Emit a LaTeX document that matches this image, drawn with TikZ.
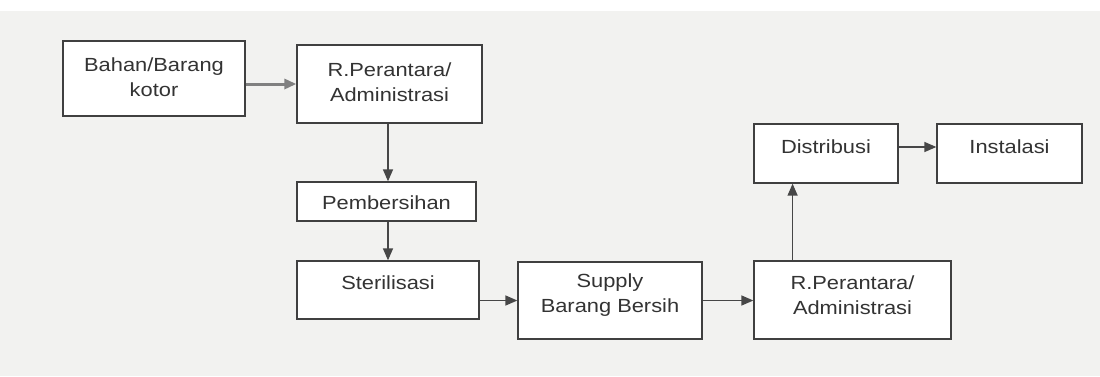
\documentclass[tikz,border=0pt]{standalone}
\usepackage{fontspec}
\setmainfont{Liberation Sans}[FakeStretch=1.15]
\usetikzlibrary{arrows.meta,calc}
\begin{document}
\begin{tikzpicture}[x=1pt,y=-1pt,
  box/.style={draw=black!75,line width=1.3pt,fill=white,inner sep=0pt},
  lbl/.style={text=black!80,align=center,inner sep=0pt,
    font=\fontsize{19}{25}\selectfont},
  flow/.style={draw=black!72,line width=1.4pt,
    -{Triangle[length=12pt,width=10pt]}},
  thickflow/.style={draw=black!50,line width=3pt,
    -{Triangle[length=12pt,width=10pt]}}]
  % paper
  \fill[fill={rgb,255:red,242;green,242;blue,240}] (0,0) rectangle (1100,376);
  \fill[white] (0,0) rectangle (1100,11);
  \useasboundingbox (0,0) rectangle (1100,376);

  % boxes
  \node[box,minimum width=182pt,minimum height=75pt] (b1) at (154,78.5) {};
  \node[box,minimum width=185pt,minimum height=78pt] (b2) at (389.5,84) {};
  \node[box,minimum width=179pt,minimum height=39pt] (b3) at (386.5,201.5) {};
  \node[box,minimum width=182pt,minimum height=58pt] (b4) at (388,290) {};
  \node[box,minimum width=184pt,minimum height=77pt] (b5) at (610,300.5) {};
  \node[box,minimum width=197pt,minimum height=78pt] (b6) at (852.5,300) {};
  \node[box,minimum width=144pt,minimum height=59pt] (b7) at (826,153.5) {};
  \node[box,minimum width=145pt,minimum height=59pt] (b8) at (1009.5,153.5) {};

  % labels
  \node[lbl] (t1) at ([yshift=1pt]b1.center) {Bahan/Barang\\kotor};
  \node[lbl] (t2) at ([yshift=1.5pt]b2.center) {R.Perantara/\\Administrasi};
  \node[lbl] (t3) at ([yshift=-1pt]b3.center) {Pembersihan};
  \node[lbl] (t4) at ([yshift=7pt]b4.center) {Sterilisasi};
  \node[lbl] (t5) at ([yshift=5pt]b5.center) {Supply\\Barang Bersih};
  \node[lbl] (t6) at ([yshift=5pt]b6.center) {R.Perantara/\\Administrasi};
  \node[lbl] (t7) at ([yshift=6.5pt]b7.center) {Distribusi};
  \node[lbl] (t8) at ([yshift=6.5pt]b8.center) {Instalasi};

  % connectors
  \draw[thickflow] (b1.east |- b2.west) -- (b2.west);
  \draw[flow] (b2.south -| 388,0) -- (b3.north -| 388,0);
  \draw[flow] (b3.south -| 388,0) -- (b4.north -| 388,0);
  \draw[flow] (b4.east |- b5.west) -- (b5.west);
  \draw[flow] (b5.east) -- (b5.east -| b6.west);
  \coordinate (up) at ($(b7.south west)!0.27!(b7.south east)$);
  \draw[flow] (b6.north -| up) -- (up);
  \draw[flow] ([yshift=6.5pt]b7.east) -- ([yshift=6.5pt]b8.west);
\end{tikzpicture}
\end{document}
